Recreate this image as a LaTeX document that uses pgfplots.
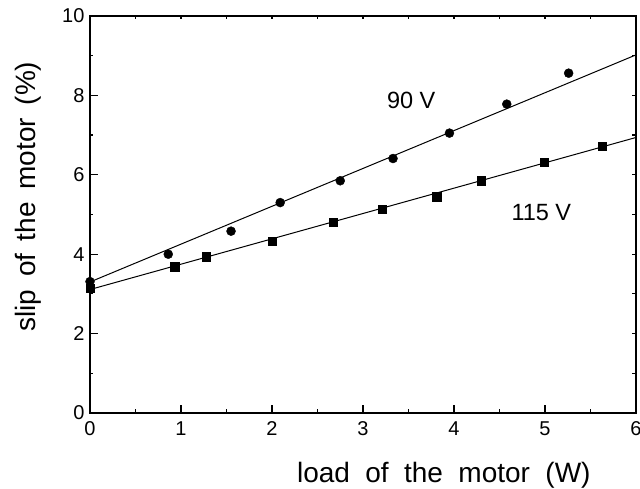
\documentclass[border=0pt]{standalone}
\usepackage{fontspec}
\setmainfont{Liberation Sans}
\usepackage{pgfplots}
\pgfplotsset{compat=1.18}

\begin{document}
\begin{tikzpicture}
\pgfplotsset{
  every axis/.append style={scale only axis, width=546pt, height=397pt,
    xmin=0, xmax=6, ymin=0, ymax=10,
    xtick={0,...,6}, ytick={0,2,...,10},
    minor x tick num=1, minor y tick num=1, tick align=inside,
    every tick/.style={line width=1.2pt, black}},
}
% main frame, ticks bottom/left with labels
\begin{axis}[
  axis line style={line width=1.5pt},
  xtick pos=left, ytick pos=left,
  major tick length=8pt, minor tick length=3.5pt,
  tick label style={font=\fontsize{20}{20}\selectfont},
  /pgf/number format/assume math mode=true,
  xticklabel style={yshift=-5pt},
  yticklabel style={xshift=-2pt},
  label style={font=\fontsize{28}{28}\selectfont},
  xlabel={load\hspace{0.55em}of\hspace{0.55em}the\hspace{0.55em}motor\hspace{0.55em}(W)},
  ylabel={slip\hspace{0.45em}of\hspace{0.45em}the\hspace{0.45em}motor\hspace{0.45em}(\%)},
  xlabel style={at={(axis description cs:0.648,-0.1763)}, anchor=base},
  ylabel style={at={(axis description cs:-0.1007,0.545)}, anchor=base},
]
% 90 V
\addplot[black, line width=1pt] coordinates {(0,3.30) (6,9.02)};
\addplot[only marks, mark=*, mark size=4.5pt, black] coordinates {
  (0,3.31) (0.86,4.00) (1.55,4.58) (2.09,5.30) (2.75,5.85)
  (3.33,6.41) (3.95,7.05) (4.58,7.78) (5.26,8.56)};
% 115 V
\addplot[black, line width=1pt] coordinates {(0,3.11) (6,6.94)};
\addplot[only marks, mark=square*, mark size=4.2pt, black] coordinates {
  (0,3.14) (0.93,3.69) (1.28,3.94) (2.00,4.33) (2.67,4.81)
  (3.21,5.14) (3.81,5.45) (4.30,5.85) (4.99,6.32) (5.63,6.72)};
\node[font=\fontsize{23.5}{23.5}\selectfont] at (axis cs:3.53,7.88) {90 V};
\node[font=\fontsize{23.5}{23.5}\selectfont] at (axis cs:4.96,5.04) {115 V};
\end{axis}
% mirror ticks top/right, short
\begin{axis}[
  axis line style={draw=none},
  xtick pos=right, ytick pos=right,
  xticklabels={}, yticklabels={},
  major tick length=3.5pt, minor tick length=3.5pt,
]
\end{axis}
\pgfresetboundingbox
\path[use as bounding box] (-90pt,-76pt) rectangle (550pt,413pt);
\end{tikzpicture}
\end{document}
